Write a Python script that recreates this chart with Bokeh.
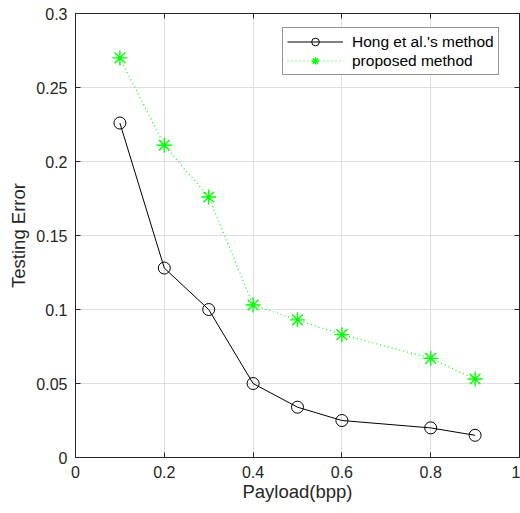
from bokeh.plotting import figure
from bokeh.models import LinearAxis, Range1d, FixedTicker, Legend, LegendItem, CustomJSTickFormatter
from bokeh.embed import file_html
from bokeh.resources import INLINE

payload = [0.1, 0.2, 0.3, 0.4, 0.5, 0.6, 0.8, 0.9]
hong = [0.226, 0.128, 0.100, 0.050, 0.034, 0.025, 0.020, 0.015]
proposed = [0.270, 0.211, 0.176, 0.103, 0.093, 0.083, 0.067, 0.053]

x_ticks = [0, 0.2, 0.4, 0.6, 0.8, 1.0]
x_labels = ["0", "0.2", "0.4", "0.6", "0.8", "1"]
y_ticks = [0, 0.05, 0.1, 0.15, 0.2, 0.25, 0.3]
y_labels = ["0", "0.05", "0.1", "0.15", "0.2", "0.25", "0.3"]

FONT = "Liberation Sans"
AX = "#262626"

p = figure(width=520, height=513, output_backend="svg", toolbar_location=None,
           x_range=Range1d(0, 1), y_range=Range1d(0, 0.3),
           min_border_left=75, min_border_right=1, min_border_top=13, min_border_bottom=56)
p.background_fill_color = "white"
p.outline_line_color = AX
p.outline_line_width = 1

for ax in (p.xaxis[0], p.yaxis[0]):
    ax.major_tick_in = 5
    ax.major_tick_out = 0
    ax.minor_tick_in = 0
    ax.minor_tick_out = 0
    ax.axis_line_color = AX
    ax.major_tick_line_color = AX
    ax.major_label_text_font = FONT
    ax.major_label_text_font_size = "16px"
    ax.major_label_text_color = AX
    ax.axis_label_text_font = FONT
    ax.axis_label_text_font_size = "18.5px"
    ax.axis_label_text_font_style = "normal"
    ax.axis_label_text_color = AX

p.xaxis.ticker = FixedTicker(ticks=x_ticks)
p.xaxis.major_label_overrides = {t: l for t, l in zip(x_ticks, x_labels)}
p.yaxis.ticker = FixedTicker(ticks=y_ticks)
p.yaxis.major_label_overrides = {t: l for t, l in zip(y_ticks, y_labels)}
p.xaxis.axis_label = "Payload(bpp)"
p.yaxis.axis_label = "Testing Error"
p.xaxis.major_label_standoff = 8
p.yaxis.major_label_standoff = 8
p.xaxis.axis_label_standoff = 0
p.yaxis.axis_label_standoff = 4

blank = CustomJSTickFormatter(code="return ''")
for loc, ticks in (("above", x_ticks), ("right", y_ticks)):
    a = LinearAxis(ticker=FixedTicker(ticks=ticks), major_tick_in=5, major_tick_out=0,
                   minor_tick_in=0, minor_tick_out=0, axis_line_color=AX,
                   major_tick_line_color=AX, formatter=blank,
                   major_label_standoff=0)
    p.add_layout(a, loc)

p.xgrid.ticker = FixedTicker(ticks=x_ticks)
p.ygrid.ticker = FixedTicker(ticks=y_ticks)
p.grid.grid_line_color = "#dedede"
p.grid.grid_line_width = 1

l1 = p.line(payload, hong, line_color="black", line_width=1)
s1 = p.scatter(payload, hong, marker="circle", size=12, fill_color=None,
               line_color="black", line_width=1)
l2 = p.line(payload, proposed, line_color="#00ff00", line_width=1.2, line_dash="1 3")
s2 = p.scatter(payload, proposed, marker="asterisk", size=15,
               line_color="#00ff00", line_width=1.4)

legend = Legend(items=[LegendItem(label="Hong et al.'s method", renderers=[l1, s1]),
                       LegendItem(label="proposed method", renderers=[l2, s2])],
                location=(207, 382))
legend.label_text_font = FONT
legend.label_text_font_size = "15.5px"
legend.label_text_color = "black"
legend.border_line_color = AX
legend.border_line_width = 1
legend.background_fill_alpha = 1
legend.glyph_width = 56
legend.glyph_height = 19
legend.spacing = 0
legend.padding = 4
legend.margin = 0
legend.label_standoff = 9
legend.label_height = 19
p.add_layout(legend, "center")

open("out.html", "w").write(file_html(p, INLINE))
